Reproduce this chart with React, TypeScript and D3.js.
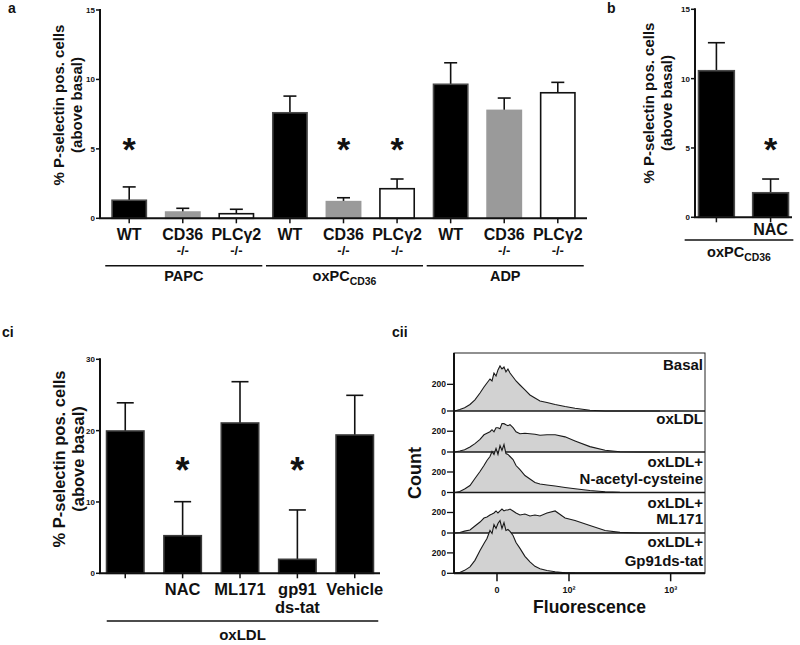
import React from 'react';
import * as d3 from 'd3';

const FONT = "'Liberation Sans', Arial, Helvetica, sans-serif";
const INK = '#111';

// ---------------- Panel a ----------------
const aLabels = ['WT', 'CD36', 'PLCγ2', 'WT', 'CD36', 'PLCγ2', 'WT', 'CD36', 'PLCγ2'];
const aSubLabels = ['', '-/-', '-/-', '', '-/-', '-/-', '', '-/-', '-/-'];
const aGenotypes = ['WT', 'CD36', 'PLC', 'WT', 'CD36', 'PLC', 'WT', 'CD36', 'PLC'];
const aMeans = [1.3, 0.45, 0.33, 7.6, 1.2, 2.13, 9.65, 7.77, 9.04];
const aSEM = [0.96, 0.27, 0.32, 1.2, 0.28, 0.7, 1.55, 0.89, 0.75];
const aStars = [true, false, false, false, true, true, false, false, false];
const aGroupNames = ['PAPC', 'oxPC', 'ADP'];
const aGroupSubs = ['', 'CD36', ''];
const aGroupMembers = [[0, 2], [3, 5], [6, 8]];
const aTicks = [0, 5, 10, 15];

// ---------------- Panel b ----------------
const bLabels = ['', 'NAC'];
const bMeans = [10.57, 1.77];
const bSEM = [2.02, 0.99];
const bStars = [false, true];
const bTicks = [0, 5, 10, 15];

// ---------------- Panel ci ----------------
const ciLabels = ['', 'NAC', 'ML171', 'gp91', 'Vehicle'];
const ciSubLabels = ['', '', '', 'ds-tat', ''];
const ciMeans = [19.95, 5.27, 21.07, 1.96, 19.39];
const ciSEM = [3.95, 4.77, 5.79, 6.92, 5.56];
const ciStars = [false, true, false, true, false];
const ciTicks = [0, 10, 20, 30];

// ---------------- Panel cii (flow histograms) ----------------
const ciiBins = [-41, -34, -28, -22, -17, -12.4, -9.1, -6.8, -4.6, -3.2, -1.9, -0.6, 0.6, 1.9, 3.2, 4.6, 6, 7.5, 9.1, 11.6, 14.2, 17.9, 23, 28.7, 35, 42, 53, 68, 90, 117, 169, 241, 337, 522, 798];
const ciiBasal = [0, 11, 25, 49, 83, 135, 180, 210, 240, 225, 285, 262, 308, 338, 315, 330, 293, 315, 285, 255, 225, 195, 158, 120, 98, 75, 64, 49, 34, 21, 6, 0, 0, 0, 0];
const ciiOxLDL = [0, 10, 22, 49, 81, 122, 166, 180, 195, 215, 195, 234, 234, 224, 273, 273, 263, 254, 263, 234, 195, 176, 180, 176, 171, 161, 166, 166, 146, 107, 52, 17, 3, 0, 0];
const ciiNAC = [0, 10, 34, 68, 137, 205, 263, 312, 351, 400, 371, 429, 371, 458, 410, 468, 380, 371, 351, 322, 263, 224, 166, 132, 98, 83, 73, 63, 49, 37, 20, 7, 2, 0, 0];
const ciiML171 = [0, 5, 18, 29, 68, 107, 146, 156, 176, 185, 195, 215, 195, 215, 234, 215, 224, 224, 234, 215, 195, 176, 185, 166, 176, 166, 195, 215, 146, 122, 73, 24, 6, 0, 0];
const ciiGp91 = [0, 7, 29, 63, 127, 224, 293, 341, 419, 390, 478, 439, 488, 517, 439, 497, 419, 429, 410, 371, 302, 244, 166, 112, 68, 44, 27, 15, 6, 2, 0, 0, 0, 0, 0];
const ciiRowLabels = [['Basal'], ['oxLDL'], ['oxLDL+', 'N-acetyl-cysteine'], ['oxLDL+', 'ML171'], ['oxLDL+', 'Gp91ds-tat']];
const ciiXTicks = [0, 100, 1000];
const ciiXTickLabels = ['0', '10²', '10³'];
const ciiYTicks = [0, 200];
const ciiRowMax = [435, 395, 395, 395, 395];

const fillFor: Record<string, string> = { WT: '#000', CD36: '#9a9a9a', PLC: '#fff' };
const strokeFor: Record<string, string> = { WT: '#4a4a4a', CD36: '#9a9a9a', PLC: '#111' };

type BarCfg = {
  means: number[];
  sems: number[];
  fills: string[];
  strokes: string[];
  stars: boolean[];
  labels: string[];
  subLabels: string[];
  ticks: number[];
  yMax: number;
  xRange: [number, number];
  yRange: [number, number];
  padInner: number;
  padOuter: number;
  capW: number;
  starCenterY: number;
  starSize: number;
  tickFont: number;
  labelFont: number;
  labelY: number;
  subFont: number;
  subY: number;
};

function BarPanel(c: BarCfg) {
  const ids = c.means.map((_, i) => String(i));
  const x = d3.scaleBand<string>().domain(ids).range(c.xRange).paddingInner(c.padInner).paddingOuter(c.padOuter);
  const y = d3.scaleLinear().domain([0, c.yMax]).range(c.yRange);
  const x0 = c.xRange[0];
  const bw = x.bandwidth();
  return (
    <g>
      {ids.map((id, i) => {
        const bx = x(id)!;
        const cx = bx + bw / 2;
        const top = y(c.means[i] + c.sems[i]);
        return (
          <g key={id}>
            <line x1={cx} x2={cx} y1={y(c.means[i])} y2={top} stroke={INK} strokeWidth={1.6} />
            <line x1={cx - c.capW / 2} x2={cx + c.capW / 2} y1={top} y2={top} stroke={INK} strokeWidth={1.6} />
            <rect x={bx + 0.8} y={y(c.means[i])} width={bw - 1.6} height={y(0) - y(c.means[i])} fill={c.fills[i]} stroke={c.strokes[i]} strokeWidth={1.6} />
            <line x1={cx} x2={cx} y1={y(0)} y2={y(0) + 5} stroke={INK} strokeWidth={1.5} />
            {c.stars[i] && (
              <text x={cx} y={c.starCenterY + 0.55 * c.starSize} textAnchor="middle" fontSize={c.starSize} fontWeight="bold" fill={INK}>*</text>
            )}
            {c.labels[i] && (
              <text x={cx} y={c.labelY} textAnchor="middle" fontSize={c.labelFont} fontWeight="bold" fill={INK}>{c.labels[i]}</text>
            )}
            {c.subLabels[i] && (
              <text x={cx} y={c.subY} textAnchor="middle" fontSize={c.subFont} fontWeight="bold" fill={INK}>{c.subLabels[i]}</text>
            )}
          </g>
        );
      })}
      <line x1={x0} x2={x0} y1={y(c.yMax) - 1} y2={y(0)} stroke={INK} strokeWidth={2} />
      <line x1={x0 - 1} x2={c.xRange[1]} y1={y(0)} y2={y(0)} stroke={INK} strokeWidth={2} />
      {c.ticks.map((t) => (
        <g key={t}>
          <line x1={x0 - 4} x2={x0} y1={y(t)} y2={y(t)} stroke={INK} strokeWidth={1.5} />
          <text x={x0 - 5} y={y(t) + c.tickFont * 0.36} textAnchor="end" fontSize={c.tickFont} fontWeight="bold" fill={INK}>{t}</text>
        </g>
      ))}
    </g>
  );
}

function YTitle({ cy, baselines, size }: { cy: number; baselines: number[]; size: number }) {
  const lines = ['% P-selectin pos. cells', '(above basal)'];
  return (
    <g>
      {lines.map((t, i) => (
        <text key={i} transform={`translate(${baselines[i]},${cy}) rotate(-90)`} textAnchor="middle" fontSize={size} fontWeight="bold" fill={INK}>{t}</text>
      ))}
    </g>
  );
}

function GroupLabel({ x1, x2, lineY, textY, name, sub, size }: { x1: number; x2: number; lineY: number; textY: number; name: string; sub: string; size: number }) {
  return (
    <g>
      <line x1={x1} x2={x2} y1={lineY} y2={lineY} stroke={INK} strokeWidth={1.5} />
      <text x={(x1 + x2) / 2} y={textY} textAnchor="middle" fontSize={size} fontWeight="bold" fill={INK}>
        <tspan>{name}</tspan>
        {sub && <tspan fontSize={size * 0.72} dy={4}>{sub}</tspan>}
      </text>
    </g>
  );
}

function PanelCii() {
  const rows = [ciiBasal, ciiOxLDL, ciiNAC, ciiML171, ciiGp91];
  const left = 454, right = 705, top = 353;
  const bottoms = [411, 452, 492.5, 533, 573.3];
  const tops = [top, 411, 452, 492.5, 533];
  const x = d3.scaleSymlog().constant(30).domain([-42, 2043]).range([left, right]);
  return (
    <g>
      <rect x={left} y={top} width={right - left} height={bottoms[4] - top} fill="#fff" stroke="#222" strokeWidth={1} />
      {rows.map((counts, r) => {
        const y = d3.scaleLinear().domain([0, ciiRowMax[r]]).range([bottoms[r], tops[r]]);
        const pts = ciiBins.map((f, i) => ({ f, c: counts[i] }));
        const area = d3.area<{ f: number; c: number }>().x((d) => x(d.f)).y0(y(0)).y1((d) => y(d.c));
        const line = d3.line<{ f: number; c: number }>().x((d) => x(d.f)).y((d) => y(d.c));
        return (
          <g key={r}>
            <path d={area(pts)!} fill="#d2d2d2" />
            <path d={line(pts)!} fill="none" stroke="#1a1a1a" strokeWidth={1.1} />
            <line x1={left} x2={right} y1={y(0)} y2={y(0)} stroke="#1a1a1a" strokeWidth={1.4} />
            {ciiYTicks.map((t) => (
              <g key={t}>
                <line x1={left - 7} x2={left} y1={y(t)} y2={y(t)} stroke={INK} strokeWidth={1.3} />
                <text x={left - 8} y={y(t) + 3} textAnchor="end" fontSize={8.5} fontWeight="bold" fill={INK}>{t}</text>
              </g>
            ))}
          </g>
        );
      })}
      <line x1={left} x2={left} y1={top} y2={bottoms[4]} stroke={INK} strokeWidth={2} />
      <line x1={left} x2={right} y1={bottoms[4]} y2={bottoms[4]} stroke={INK} strokeWidth={2} />
      {ciiXTicks.map((t, i) => (
        <g key={t}>
          <line x1={x(t)} x2={x(t)} y1={bottoms[4]} y2={bottoms[4] + 8} stroke={INK} strokeWidth={1.5} />
          <text x={x(t)} y={593} textAnchor="middle" fontSize={9} fontWeight="bold" fill={INK}>{ciiXTickLabels[i]}</text>
        </g>
      ))}
      {ciiRowLabels.map((ls, r) => {
        const baselines = [[370], [424], [467, 483.5], [508, 524], [547, 566]][r];
        return ls.map((t, j) => (
          <text key={r + '-' + j} x={703} y={baselines[j]} textAnchor="end" fontSize={15} fontWeight="bold" fill={INK}>{t}</text>
        ));
      })}
      <text x={(left + right) / 2 + 10} y={613} textAnchor="middle" fontSize={17.5} fontWeight="bold" fill={INK}>Fluorescence</text>
      <text transform={`translate(421,473) rotate(-90)`} textAnchor="middle" fontSize={18} fontWeight="bold" fill={INK}>Count</text>
    </g>
  );
}

export default function App() {
  const aIds = aMeans.map((_, i) => String(i));
  const ax = d3.scaleBand<string>().domain(aIds).range([100, 587]).paddingInner(0.33).paddingOuter(0.21);
  const bx = d3.scaleBand<string>().domain(['0', '1']).range([697, 792]).paddingInner(0.31).paddingOuter(0.05);
  const cx = d3.scaleBand<string>().domain(ciMeans.map((_, i) => String(i))).range([100, 380]).paddingInner(0.32).paddingOuter(0.1);

  return (
    <svg width={800} height={645} viewBox="0 0 800 645" style={{ position: 'absolute', left: 0, top: 0, background: '#fff' }} fontFamily={FONT}>
      <rect width={800} height={645} fill="#fff" />

      {/* Panel a */}
      <text x={8} y={13} fontSize={14} fontWeight="bold" fill={INK}>a</text>
      <YTitle cy={105} baselines={[63.5, 81.5]} size={15} />
      <BarPanel
        means={aMeans} sems={aSEM}
        fills={aGenotypes.map((g) => fillFor[g])} strokes={aGenotypes.map((g) => strokeFor[g])}
        stars={aStars} labels={aLabels} subLabels={aSubLabels} ticks={aTicks} yMax={15}
        xRange={[100, 587]} yRange={[218.3, 10]} padInner={0.33} padOuter={0.21} capW={13}
        starCenterY={142} starSize={34} tickFont={8} labelFont={16} labelY={239.5} subFont={13} subY={255}
      />
      {aGroupNames.map((n, g) => {
        const [f, l] = aGroupMembers[g];
        return (
          <GroupLabel key={n} x1={ax(String(f))! - 6} x2={ax(String(l))! + ax.bandwidth() + 8} lineY={265.7} textY={281} name={n} sub={aGroupSubs[g]} size={14.5} />
        );
      })}

      {/* Panel b */}
      <text x={607} y={13} fontSize={14} fontWeight="bold" fill={INK}>b</text>
      <YTitle cy={103} baselines={[653.5, 671.5]} size={15} />
      <BarPanel
        means={bMeans} sems={bSEM} fills={['#000', '#000']} strokes={['#4a4a4a', '#4a4a4a']}
        stars={bStars} labels={bLabels} subLabels={['', '']} ticks={bTicks} yMax={15}
        xRange={[695, 792]} yRange={[217.3, 9.3]} padInner={0.31} padOuter={0.05} capW={17}
        starCenterY={142} starSize={34} tickFont={8} labelFont={16} labelY={235} subFont={12} subY={250}
      />
      <GroupLabel x1={bx('0')! - 15} x2={bx('1')! + bx.bandwidth() + 4} lineY={240} textY={257} name="oxPC" sub="CD36" size={14.5} />

      {/* Panel ci */}
      <text x={2} y={337} fontSize={14} fontWeight="bold" fill={INK}>ci</text>
      <YTitle cy={459} baselines={[65, 84]} size={16.5} />
      <BarPanel
        means={ciMeans} sems={ciSEM} fills={ciMeans.map(() => '#000')} strokes={ciMeans.map(() => '#3a3a3a')}
        stars={ciStars} labels={ciLabels} subLabels={ciSubLabels} ticks={ciTicks} yMax={30}
        xRange={[100, 380]} yRange={[573.3, 359.3]} padInner={0.32} padOuter={0.1} capW={17}
        starCenterY={463} starSize={36} tickFont={8} labelFont={16.5} labelY={595} subFont={16.5} subY={613}
      />
      <GroupLabel x1={cx('0')! + 1} x2={cx('4')! + cx.bandwidth() + 4} lineY={621} textY={640} name="oxLDL" sub="" size={15} />

      {/* Panel cii */}
      <text x={392} y={337} fontSize={14} fontWeight="bold" fill={INK}>cii</text>
      <PanelCii />
    </svg>
  );
}
